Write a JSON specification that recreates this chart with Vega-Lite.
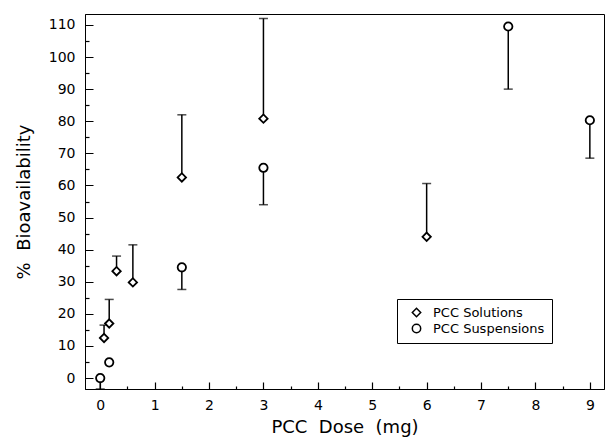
{
  "$schema": "https://vega.github.io/schema/vega-lite/v6.json",
  "width": 519,
  "height": 375,
  "autosize": "none",
  "padding": {"left": 85, "top": 14, "right": 1, "bottom": 52},
  "background": "white",
  "config": {
    "view": {"stroke": "black", "strokeWidth": 1},
    "font": "DejaVu Sans",
    "axis": {
      "domainColor": "black",
      "tickColor": "black",
      "labelColor": "black",
      "titleColor": "black",
      "grid": false,
      "labelFont": "DejaVu Sans",
      "titleFont": "DejaVu Sans",
      "labelFontSize": 14,
      "titleFontSize": 18,
      "titleFontWeight": "normal",
      "tickWidth": 1.2
    }
  },
  "data": {
    "values": [
      {"group": "PCC Solutions", "dose": 0.07, "value": 12.5, "err": 16.5},
      {"group": "PCC Solutions", "dose": 0.165, "value": 17, "err": 24.5},
      {"group": "PCC Solutions", "dose": 0.3, "value": 33.3, "err": 38},
      {"group": "PCC Solutions", "dose": 0.6, "value": 29.8, "err": 41.5},
      {"group": "PCC Solutions", "dose": 1.5, "value": 62.5, "err": 82},
      {"group": "PCC Solutions", "dose": 3, "value": 80.8, "err": 112},
      {"group": "PCC Solutions", "dose": 6, "value": 44, "err": 60.6},
      {"group": "PCC Suspensions", "dose": 0, "value": 0, "err": -3.4},
      {"group": "PCC Suspensions", "dose": 0.165, "value": 4.9, "err": null},
      {"group": "PCC Suspensions", "dose": 1.5, "value": 34.5, "err": 27.6},
      {"group": "PCC Suspensions", "dose": 3, "value": 65.5, "err": 54},
      {"group": "PCC Suspensions", "dose": 7.5, "value": 109.5, "err": 90},
      {"group": "PCC Suspensions", "dose": 9, "value": 80.3, "err": 68.5}
    ]
  },
  "encoding": {
    "x": {
      "field": "dose",
      "type": "quantitative",
      "scale": {"domain": [-0.28, 9.26], "nice": false, "zero": false},
      "axis": {
        "title": "PCC\u00a0\u00a0Dose\u00a0\u00a0(mg)",
        "values": [0, 0.5, 1, 1.5, 2, 2.5, 3, 3.5, 4, 4.5, 5, 5.5, 6, 6.5, 7, 7.5, 8, 8.5, 9],
        "labelExpr": "datum.value % 1 === 0 ? format(datum.value, 'd') : ''",
        "tickSize": -7,
        "tickDash": {"condition": {"test": "datum.value % 1 === 0", "value": [1, 0]}, "value": [3, 20]},
        "labelPadding": 16,
        "titlePadding": 6
      }
    },
    "y": {
      "field": "value",
      "type": "quantitative",
      "scale": {"domain": [-3.4, 113.4], "nice": false, "zero": false},
      "axis": {
        "title": "%\u00a0\u00a0Bioavailability",
        "values": [0, 5, 10, 15, 20, 25, 30, 35, 40, 45, 50, 55, 60, 65, 70, 75, 80, 85, 90, 95, 100, 105, 110],
        "labelExpr": "datum.value % 10 === 0 ? format(datum.value, 'd') : ''",
        "tickSize": -8,
        "tickDash": {"condition": {"test": "datum.value % 10 === 0", "value": [1, 0]}, "value": [4, 20]},
        "labelPadding": 18,
        "titlePadding": 15
      }
    }
  },
  "layer": [
    {
      "transform": [{"filter": "datum.err != null"}],
      "mark": {"type": "rule", "color": "black", "strokeWidth": 1.5},
      "encoding": {"y2": {"field": "err"}}
    },
    {
      "transform": [{"filter": "datum.err != null"}],
      "mark": {"type": "tick", "orient": "horizontal", "color": "black", "size": 9, "thickness": 1.5},
      "encoding": {"y": {"field": "err", "type": "quantitative"}}
    },
    {
      "mark": {"type": "point", "filled": true, "fill": "white", "stroke": "black", "strokeWidth": 1.8, "size": 70, "opacity": 1},
      "encoding": {
        "shape": {
          "field": "group",
          "type": "nominal",
          "scale": {"domain": ["PCC Solutions", "PCC Suspensions"], "range": ["diamond", "circle"]},
          "legend": {
            "title": null,
            "orient": "none",
            "legendX": 312,
            "legendY": 285,
            "strokeColor": "black",
            "fillColor": "white",
            "padding": 7,
            "labelFont": "DejaVu Sans",
            "labelFontSize": 13,
            "labelColor": "black",
            "symbolSize": 70,
            "rowPadding": 1,
            "labelOffset": 10,
            "symbolOffset": 6,
            "encode": {
              "symbols": {
                "update": {
                  "stroke": {"value": "black"},
                  "fill": {"value": "white"},
                  "strokeWidth": {"value": 1.8},
                  "opacity": {"value": 1}
                }
              }
            }
          }
        }
      }
    }
  ]
}
